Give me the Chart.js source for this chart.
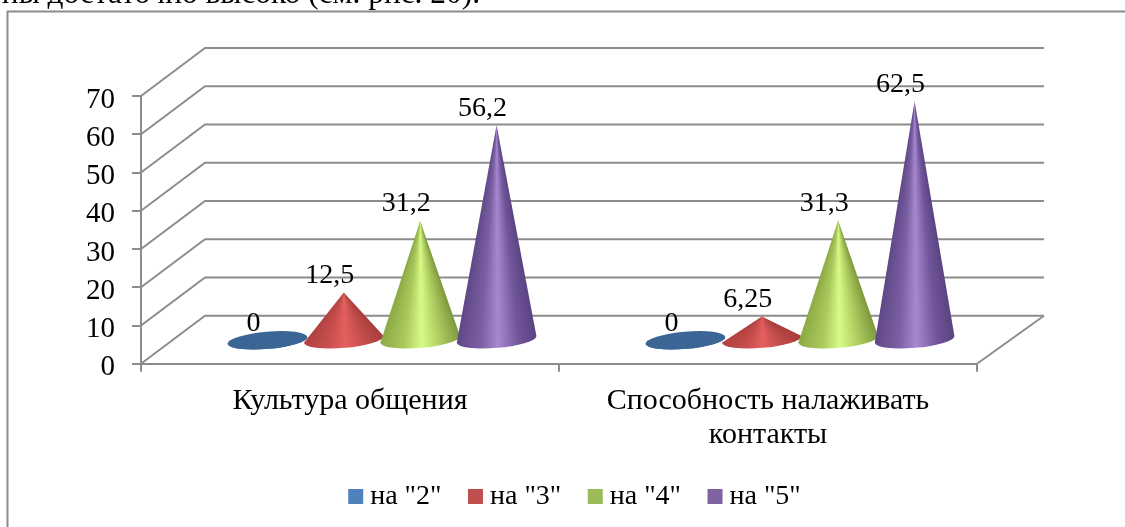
<!DOCTYPE html>
<html lang="ru">
<head>
<meta charset="utf-8">
<title>Культура общения</title>
<script src="https://cdn.jsdelivr.net/npm/chart.js@4"></script>
<style>
    html, body { margin: 0; padding: 0; background: #fff; overflow: hidden; }
    #wrap { position: relative; width: 1125px; height: 527px; overflow: hidden; }
    #topLine {
        position: absolute; right: 645px; top: -25px; white-space: nowrap;
        font: 31.4px "Liberation Serif", serif; color: #000;
    }
    canvas { position: absolute; left: 0; top: 0; }
</style>
</head>
<body>
<div id="wrap">
    <canvas id="coneChart" width="1125" height="527"></canvas>
    <div id="topLine">ны достаточно высоко (см. рис. 20).</div>
</div>
<script>
const categories = ['Культура общения', ['Способность налаживать', 'контакты']];
const seriesNames = ['на "2"', 'на "3"', 'на "4"', 'на "5"'];
const values2 = [0, 0];
const values3 = [12.5, 6.25];
const values4 = [31.2, 31.3];
const values5 = [56.2, 62.5];
const seriesColors = ['#4f81bd', '#c0504d', '#9bbb59', '#8064a2'];
// shades of each cone from its left edge to the right one
const coneShades = [
    ['#3a6594', '#3a6594', '#3a6594', '#3a6594', '#3a6594'],
    ['#ad403e', '#c9504e', '#e4605e', '#c44e4c', '#a93f3d'],
    ['#8aa843', '#a9c95d', '#d8fb86', '#a8c75c', '#7f9a3e'],
    ['#5f4786', '#7a5fa2', '#a688cf', '#70559a', '#5b4481']
];
const shadeStops = [0, 0.3, 0.52, 0.78, 1];
const FONT = '"Liberation Serif", serif';
const GREY = '#8c8c8c';
const DEPTH_X = 64, DEPTH_Y = 48;

// back wall, floor and the diagonal lines on the side wall
const wallPlugin = {
    id: 'wall',
    beforeDraw(chart) {
        const ctx = chart.ctx;
        const { left, right } = chart.chartArea;
        const y = chart.scales.y;
        ctx.save();
        ctx.strokeStyle = GREY;
        ctx.lineWidth = 2;
        // outer frame of the chart, it runs off the picture
        ctx.beginPath();
        ctx.moveTo(7.5, 527);
        ctx.lineTo(7.5, 11.5);
        ctx.lineTo(1125, 11.5);
        ctx.stroke();
        y.ticks.forEach(t => {
            const py = y.getPixelForValue(t.value);
            ctx.beginPath();
            ctx.moveTo(left, py);
            ctx.lineTo(left + DEPTH_X, py - DEPTH_Y);
            ctx.lineTo(right + DEPTH_X + 3, py - DEPTH_Y);
            ctx.stroke();
        });
        const py0 = y.getPixelForValue(0);
        ctx.beginPath();
        ctx.moveTo(right, py0);
        ctx.lineTo(right + DEPTH_X + 3, py0 - DEPTH_Y);
        ctx.stroke();
        ctx.restore();
    }
};

function coneFill(ctx, cx, tipY, baseY, halfW, shades) {
    if (baseY - tipY < 1) return shades[0];
    // shading fans out from the tip, so the stripes narrow towards it
    const h = baseY - tipY;
    const rightAngle = Math.atan2(h, halfW);
    const leftAngle = Math.atan2(h, -halfW);
    const start = rightAngle - 0.5;
    const grad = ctx.createConicGradient(start, cx, tipY);
    shades.forEach((c, k) => {
        const angle = leftAngle + (rightAngle - leftAngle) * shadeStops[k];
        grad.addColorStop((angle - start) / (Math.PI * 2), c);
    });
    return grad;
}

function drawCone(ctx, cx, tipY, baseY, halfW, shades) {
    const halfH = 8.6, tilt = -0.085;
    ctx.fillStyle = coneFill(ctx, cx, tipY, baseY, halfW, shades);
    ctx.beginPath();
    ctx.moveTo(cx, tipY);
    ctx.ellipse(cx, baseY, halfW, halfH, tilt, Math.PI, 0, true);
    ctx.closePath();
    ctx.fill();
    if (baseY - tipY < 1) {
        ctx.beginPath();
        ctx.ellipse(cx, baseY, halfW, halfH, tilt, 0, Math.PI * 2);
        ctx.fill();
    }
}

// the bars are only used for their positions, cones are drawn in their place
const conePlugin = {
    id: 'cones',
    beforeDatasetsDraw(chart) {
        const ctx = chart.ctx;
        const shiftX = DEPTH_X / 2, shiftY = 23.5;
        ctx.save();
        chart.data.datasets.forEach((ds, i) => {
            chart.getDatasetMeta(i).data.forEach((bar, j) => {
                const flat = ds.data[j] === 0;
                drawCone(ctx, bar.x + shiftX, bar.y - shiftY, bar.base - shiftY, 40,
                    flat ? coneShades[0] : coneShades[i]);
            });
        });
        ctx.fillStyle = '#000';
        ctx.font = '28px ' + FONT;
        ctx.textAlign = 'center';
        ctx.textBaseline = 'alphabetic';
        chart.data.datasets.forEach((ds, i) => {
            chart.getDatasetMeta(i).data.forEach((bar, j) => {
                const text = String(ds.data[j]).replace('.', ',');
                ctx.fillText(text, bar.x + shiftX - 14, bar.y - shiftY - 9.5);
            });
        });
        ctx.restore();
        return false;
    }
};

// legend sits in the middle of the frame, not of the plot
const legendPlace = {
    id: 'legendPlace',
    afterLayout(chart) {
        const lg = chart.legend;
        const h = lg.bottom - lg.top;
        lg.left = 31;
        lg.right = 1125;
        lg.top = 449;
        lg.bottom = lg.top + h;
    }
};

new Chart(document.getElementById('coneChart'), {
    type: 'bar',
    data: {
        labels: categories,
        datasets: [
            { label: seriesNames[0], data: values2, backgroundColor: seriesColors[0] },
            { label: seriesNames[1], data: values3, backgroundColor: seriesColors[1] },
            { label: seriesNames[2], data: values4, backgroundColor: seriesColors[2] },
            { label: seriesNames[3], data: values5, backgroundColor: seriesColors[3] }
        ]
    },
    plugins: [wallPlugin, conePlugin, legendPlace],
    options: {
        responsive: false,
        animation: false,
        devicePixelRatio: 1,
        layout: { padding: { left: 0, right: 148, top: 96, bottom: 0 } },
        datasets: { bar: { categoryPercentage: 0.731, barPercentage: 1 } },
        scales: {
            x: {
                afterFit(scale) { scale.height = 91.7; },
                border: { color: GREY, width: 2 },
                grid: { offset: true, drawOnChartArea: false, color: GREY, lineWidth: 2, tickLength: 8 },
                ticks: { color: '#000', font: { family: FONT, size: 30, lineHeight: 1.12 }, maxRotation: 0, padding: 13 }
            },
            y: {
                min: 0,
                max: 70,
                afterFit(scale) { scale.width = 141; },
                border: { color: GREY, width: 2 },
                grid: { drawOnChartArea: false, color: GREY, lineWidth: 2, tickLength: 9 },
                ticks: { stepSize: 10, color: '#000', font: { family: FONT, size: 29 }, padding: 17, labelOffset: 4 }
            }
        },
        plugins: {
            tooltip: { enabled: false },
            legend: {
                position: 'bottom',
                labels: {
                    usePointStyle: true,
                    pointStyle: 'rect',
                    boxWidth: 1,
                    boxHeight: 15,
                    padding: 33.5,
                    color: '#000',
                    font: { family: FONT, size: 28 }
                }
            }
        }
    }
});
</script>
</body>
</html>
